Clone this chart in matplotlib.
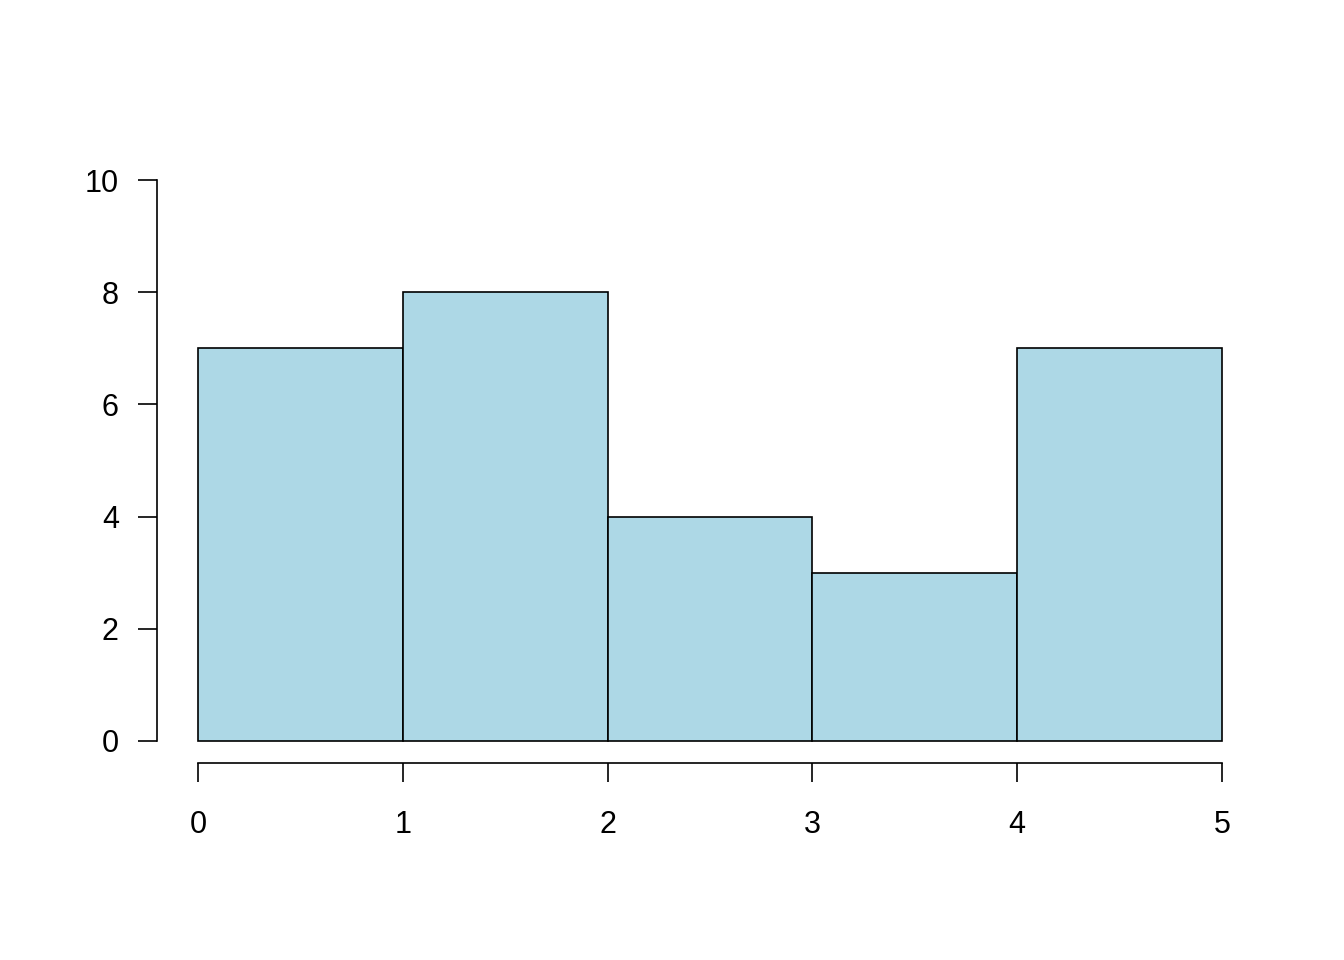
import matplotlib
matplotlib.use("Agg")
import matplotlib.pyplot as plt

bin_edges = [0, 1, 2, 3, 4, 5]
counts = [7, 8, 4, 3, 7]
x_ticks = [0, 1, 2, 3, 4, 5]
y_ticks = [0, 2, 4, 6, 8, 10]

plt.rcParams['font.family'] = ['Liberation Sans', 'DejaVu Sans']

fig = plt.figure(figsize=(13.44, 9.6), dpi=100)
W, H = 1344, 960
left, right = 157 / W, 1263 / W
bottom, top = 1 - 763.4 / H, 1 - 157.6 / H
ax = fig.add_axes([left, bottom, right - left, top - bottom])

widths = [bin_edges[i + 1] - bin_edges[i] for i in range(len(counts))]
ax.bar(bin_edges[:-1], counts, width=widths, align='edge',
       color='#ADD8E6', edgecolor='black', linewidth=1.2)

ax.set_xlim(-0.2, 5.2)
ax.set_ylim(-0.4, 10.4)
ax.spines['top'].set_visible(False)
ax.spines['right'].set_visible(False)
ax.spines['left'].set_bounds(0, 10)
ax.spines['bottom'].set_bounds(0, 5)
ax.spines['left'].set_position(('data', -0.2))
ax.spines['bottom'].set_position(('data', -0.4))
for s in ('left', 'bottom'):
    ax.spines[s].set_linewidth(1.2)
ax.set_xticks(x_ticks)
ax.set_yticks(y_ticks)
ax.set_xticklabels([str(v) for v in x_ticks])
ax.set_yticklabels([str(v) for v in y_ticks])
ax.tick_params(axis='both', length=13.5, width=1.2, labelsize=22)
ax.tick_params(axis='x', pad=20)
ax.tick_params(axis='y', pad=14)

fig.savefig("out.png", dpi=100)
